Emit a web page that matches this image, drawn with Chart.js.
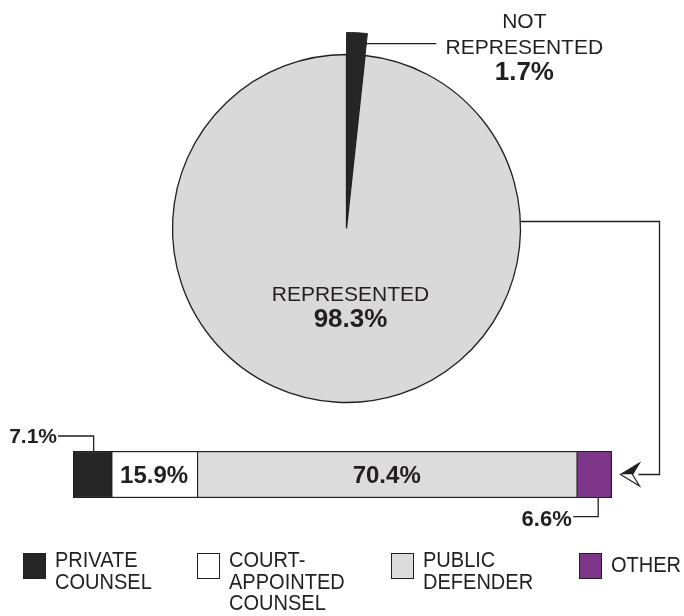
<!DOCTYPE html>
<html>
<head>
<meta charset="utf-8">
<script src="https://cdn.jsdelivr.net/npm/chart.js@4.4.0/dist/chart.umd.min.js"></script>
<style>
  html, body { margin: 0; padding: 0; background: #fff; }
  #wrap { position: relative; width: 684px; height: 616px; overflow: hidden;
          font-family: "Liberation Sans", Arial, sans-serif; color: #231f20; }
  #wrap canvas { position: absolute; left: 0; top: 0; }
  .key { position: absolute; }
  .key .sw { position: absolute; left: 0; top: 4px; width: 21px; height: 24px;
             border: 1.4px solid #231f20; }
  .key .tx { position: absolute; left: 32px; top: 0; white-space: pre; font-size: 22px; line-height: 21.6px;
             transform: scaleX(0.91); transform-origin: 0 0; }
</style>
</head>
<body>
<div id="wrap">
  <canvas id="pieChart" width="684" height="616"></canvas>
  <canvas id="barChart" width="684" height="616"></canvas>
</div>
<script>
/** PIE DATA */
const pieLabels = ['NOT REPRESENTED', 'REPRESENTED'];
const pieValues = [1.7, 98.3];
const pieColors = ['#262626', '#d9d9d9'];

/** BAR DATA (represented, by type of counsel) */
const counselLabels = ['PRIVATE\nCOUNSEL', 'COURT-\nAPPOINTED\nCOUNSEL', 'PUBLIC\nDEFENDER', 'OTHER'];
const counselValues = [7.1, 15.9, 70.4, 6.6];
const counselColors = ['#262626', '#ffffff', '#dcdcdc', '#7d3589'];

const ink = '#231f20';
const FONT = '"Liberation Sans", Arial, sans-serif';

const pct = (v) => v.toFixed(1) + '%';

const pieLabelPlugin = {
  id: 'pieLabels',
  afterDatasetsDraw(chart) {
    const ctx = chart.ctx;
    const big = chart.getDatasetMeta(1).data[1];
    const slice = chart.getDatasetMeta(0).data[0];
    const cx = big.x, cy = big.y;
    ctx.save();
    ctx.fillStyle = ink;
    ctx.strokeStyle = ink;
    ctx.textAlign = 'center';
    ctx.textBaseline = 'alphabetic';

    // represented label inside the pie
    ctx.font = '21px ' + FONT;
    ctx.fillText(pieLabels[1], cx + 4, cy + 72);
    ctx.font = 'bold 26px ' + FONT;
    ctx.fillText(pct(pieValues[1]), cx + 4, cy + 98);

    // leader line off the exploded slice
    const r = 186;
    const x0 = cx + r * Math.cos(slice.endAngle);
    const y0 = cy + r * Math.sin(slice.endAngle);
    ctx.lineWidth = 1.3;
    ctx.beginPath();
    ctx.moveTo(x0, y0);
    ctx.lineTo(x0 + 70, y0);
    ctx.stroke();

    const lx = x0 + 158;
    const words = pieLabels[0].split(' ');
    ctx.font = '21px ' + FONT;
    ctx.fillText(words[0], lx, y0 - 16);
    ctx.fillText(words[1], lx, y0 + 10);
    ctx.font = 'bold 26px ' + FONT;
    ctx.fillText(pct(pieValues[0]), lx, y0 + 36.6);
    ctx.restore();
  }
};

const pieChart = new Chart(document.getElementById('pieChart'), {
  type: 'pie',
  data: {
    labels: pieLabels,
    datasets: [{
      // outer ring: only the slice pokes out past the circle
      data: pieValues,
      backgroundColor: [pieColors[0], 'rgba(0,0,0,0)'],
      borderColor: [pieColors[0], 'rgba(0,0,0,0)'],
      borderWidth: [1, 0],
      weight: 22,
    }, {
      data: pieValues,
      backgroundColor: pieColors,
      borderColor: [pieColors[0], ink],
      borderWidth: 1.3,
      weight: 174,
    }],
  },
  options: {
    responsive: false,
    animation: false,
    events: [],
    radius: 196,
    layout: { padding: { left: 9, right: 0, top: 0, bottom: 159 } },
    plugins: {
      legend: { display: false },
      tooltip: { enabled: false },
    },
  },
  plugins: [pieLabelPlugin],
});

const barLabelPlugin = {
  id: 'barLabels',
  afterDatasetsDraw(chart) {
    const ctx = chart.ctx;
    ctx.save();
    ctx.fillStyle = ink;
    ctx.strokeStyle = ink;
    ctx.lineWidth = 1.3;
    ctx.textBaseline = 'alphabetic';
    const bars = counselValues.map((v, i) => chart.getDatasetMeta(i).data[0]);
    const top = bars[0].y - bars[0].height / 2;
    const bottom = bars[0].y + bars[0].height / 2;

    // inside labels
    ctx.textAlign = 'center';
    ctx.font = 'bold 24px ' + FONT;
    [1, 2].forEach((i) => {
      const b = bars[i];
      ctx.fillText(pct(counselValues[i]), (b.x + b.base) / 2, b.y + 8.8);
    });

    // first segment: label up-left
    let b = bars[0];
    let mx = (b.x + b.base) / 2 + 1.5;
    ctx.beginPath();
    ctx.moveTo(58, top - 15);
    ctx.lineTo(mx, top - 15);
    ctx.lineTo(mx, top);
    ctx.stroke();
    ctx.textAlign = 'right';
    ctx.font = 'bold 21px ' + FONT;
    ctx.fillText(pct(counselValues[0]), 57, top - 7.7);

    // last segment: label down-left
    b = bars[3];
    mx = (b.x + b.base) / 2 + 4;
    ctx.beginPath();
    ctx.moveTo(mx, bottom);
    ctx.lineTo(mx, bottom + 18.7);
    ctx.lineTo(mx - 25, bottom + 18.7);
    ctx.stroke();
    ctx.font = 'bold 22px ' + FONT;
    ctx.fillText(pct(counselValues[3]), mx - 26.5, bottom + 28);

    // connector from the pie down to the bar
    const arc = pieChart.getDatasetMeta(1).data[1];
    const r = arc.outerRadius;
    const sy = arc.y - 7;
    const sx = arc.x + Math.sqrt(r * r - 49);
    const end = b.x;
    const cyb = b.y;
    const tip = end + 8.5;
    const xr = end + 47.5;
    ctx.beginPath();
    ctx.moveTo(sx, sy);
    ctx.lineTo(xr, sy);
    ctx.lineTo(xr, cyb);
    ctx.lineTo(tip + 18, cyb);
    ctx.stroke();

    // stealth arrow head, top half dark
    ctx.lineWidth = 1.2;
    ctx.beginPath();
    ctx.moveTo(tip, cyb);
    ctx.lineTo(tip + 19, cyb - 11.5);
    ctx.lineTo(tip + 12, cyb);
    ctx.closePath();
    ctx.fillStyle = ink;
    ctx.fill();
    ctx.beginPath();
    ctx.moveTo(tip, cyb);
    ctx.lineTo(tip + 12, cyb);
    ctx.lineTo(tip + 19, cyb + 11.5);
    ctx.closePath();
    ctx.fillStyle = '#fff';
    ctx.fill();
    ctx.beginPath();
    ctx.moveTo(tip, cyb);
    ctx.lineTo(tip + 19, cyb - 11.5);
    ctx.lineTo(tip + 12, cyb);
    ctx.lineTo(tip + 19, cyb + 11.5);
    ctx.closePath();
    ctx.stroke();
    ctx.restore();
  }
};

const barChart = new Chart(document.getElementById('barChart'), {
  type: 'bar',
  data: {
    labels: ['REPRESENTED'],
    datasets: counselLabels.map((label, i) => ({
      label: label.replace(/\n/g, ' '),
      data: [counselValues[i]],
      backgroundColor: counselColors[i],
      borderColor: ink,
      borderWidth: i === counselLabels.length - 1
        ? 1.5
        : { top: 1.5, bottom: 1.5, left: 1.5, right: 0 },
      borderSkipped: false,
      barPercentage: 1,
      categoryPercentage: 1,
    })),
  },
  options: {
    indexAxis: 'y',
    responsive: false,
    animation: false,
    events: [],
    layout: { padding: { left: 73, right: 72, top: 451, bottom: 118 } },
    scales: {
      x: { stacked: true, min: 0, max: 100, display: false },
      y: { stacked: true, display: false },
    },
    plugins: {
      legend: { display: false },
      tooltip: { enabled: false },
    },
  },
  plugins: [barLabelPlugin],
});

/** HTML legend under the bar */
const keyLeft = [23, 197, 391, 578.5];
const wrap = document.getElementById('wrap');
counselLabels.forEach((label, i) => {
  const item = document.createElement('div');
  item.className = 'key';
  item.style.left = keyLeft[i] + 'px';
  item.style.top = '549px';
  const sw = document.createElement('span');
  sw.className = 'sw';
  sw.style.background = counselColors[i];
  const tx = document.createElement('span');
  tx.className = 'tx';
  tx.textContent = label;
  if (label.indexOf('\n') < 0) tx.style.top = '5px';
  item.appendChild(sw);
  item.appendChild(tx);
  wrap.appendChild(item);
});
</script>
</body>
</html>
